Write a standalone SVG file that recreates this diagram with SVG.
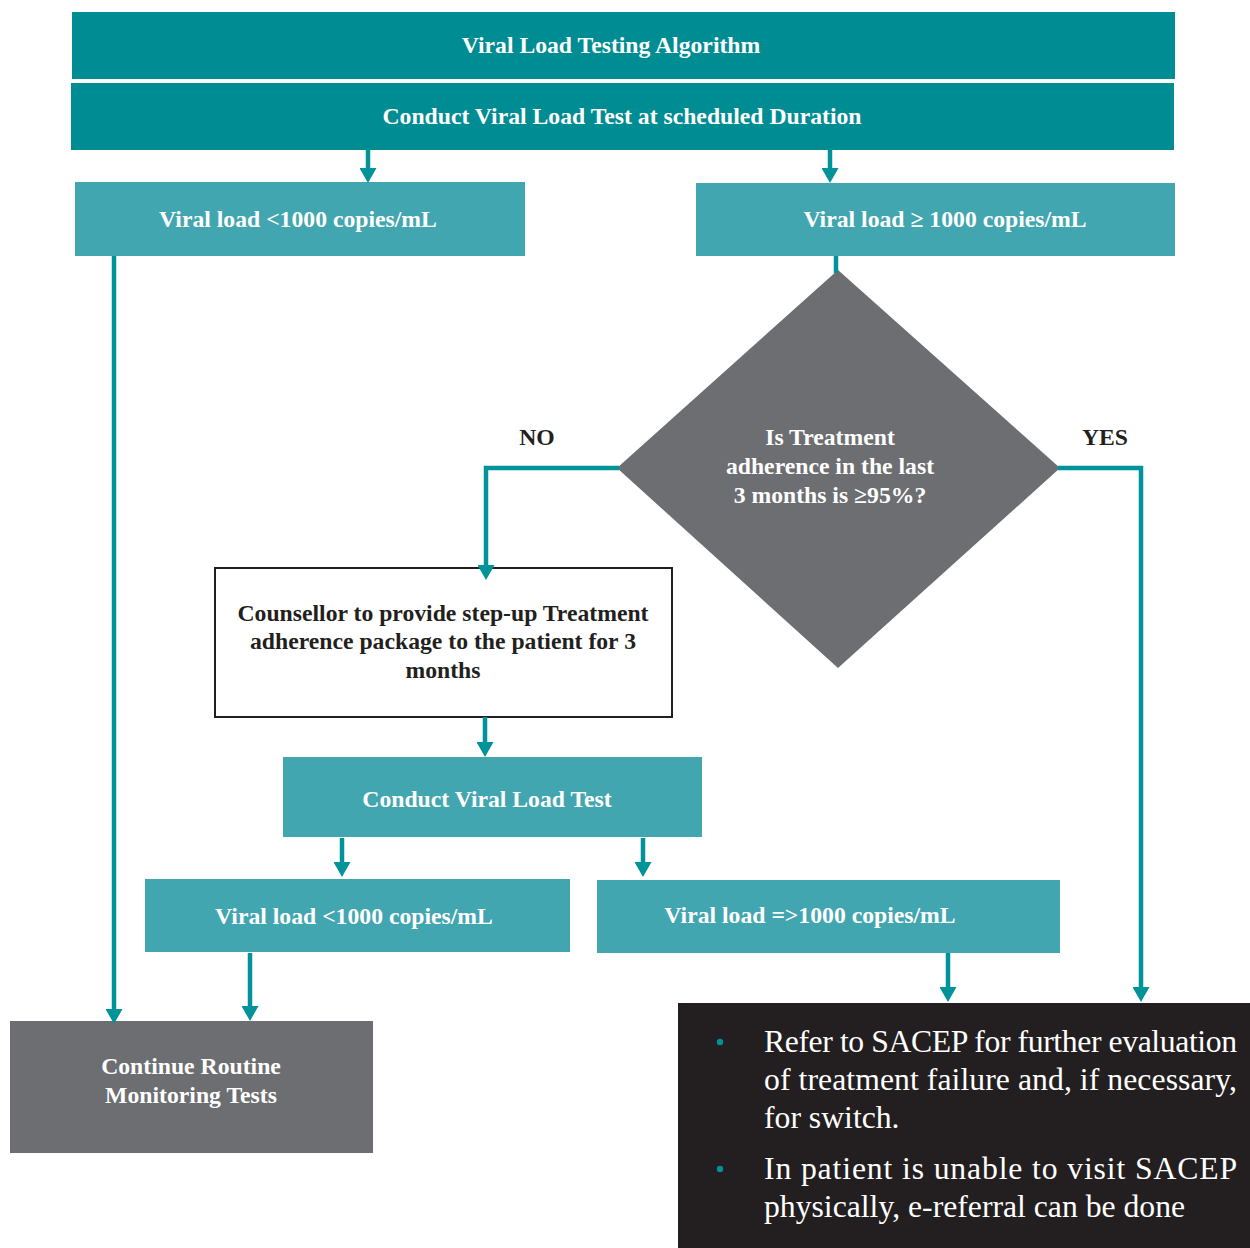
<svg xmlns="http://www.w3.org/2000/svg" width="1250" height="1248" viewBox="0 0 1250 1248">
  <style>
    .hdr { fill: #008C93; }
    .box { fill: #42A6B0; }
    .gray { fill: #6D6E71; }
    .lbl { font-family: "Liberation Serif", "Times New Roman", serif; font-weight: bold; font-size: 23.7px; text-anchor: middle; }
    .w { fill: #FFFFFF; }
    .d { fill: #231F20; }
    .body { font-family: "Liberation Serif", "Times New Roman", serif; font-size: 31.7px; fill: #FFFFFF; }
    .conn { fill: none; stroke: #00939A; stroke-width: 4.5; }
  </style>
  <defs>
    <marker id="arrow" viewBox="0 0 15 17" markerWidth="15" markerHeight="17" markerUnits="userSpaceOnUse" refX="5" refY="8.5" orient="auto">
      <path d="M0,0 L15,8.5 L0,17 Z" fill="#00939A"/>
    </marker>
  </defs>

  <rect width="1250" height="1248" fill="#FFFFFF"/>

  <g id="title">
    <rect class="hdr" x="72" y="12" width="1103" height="67"/>
    <text class="lbl w" x="611" y="53">Viral Load Testing Algorithm</text>
  </g>

  <g id="conduct-scheduled">
    <rect class="hdr" x="71" y="83" width="1103" height="67"/>
    <text class="lbl w" x="622" y="124">Conduct Viral Load Test at scheduled Duration</text>
  </g>

  <g id="vl-low-1">
    <rect class="box" x="75" y="182" width="450" height="74"/>
    <text class="lbl w" x="298" y="227">Viral load &lt;1000 copies/mL</text>
  </g>

  <g id="vl-high-1">
    <rect class="box" x="696" y="183" width="479" height="73"/>
    <text class="lbl w" x="945" y="227">Viral load ≥ 1000 copies/mL</text>
  </g>

  <g id="adherence-check">
    <polygon class="gray" points="838,270 1060,468 838,668 617,468"/>
    <text class="lbl w" x="830" y="445">Is Treatment</text>
    <text class="lbl w" x="830" y="474">adherence in the last</text>
    <text class="lbl w" x="830" y="503">3 months is ≥95%?</text>
  </g>

  <g id="counselling">
    <rect x="215" y="568" width="457" height="149" fill="#FFFFFF" stroke="#231F20" stroke-width="2"/>
    <text class="lbl d" x="443" y="621">Counsellor to provide step-up Treatment</text>
    <text class="lbl d" x="443" y="649">adherence package to the patient for 3</text>
    <text class="lbl d" x="443" y="678">months</text>
  </g>

  <g id="conduct-repeat">
    <rect class="box" x="283" y="757" width="419" height="80"/>
    <text class="lbl w" x="487" y="807">Conduct Viral Load Test</text>
  </g>

  <g id="vl-low-2">
    <rect class="box" x="145" y="879" width="425" height="73"/>
    <text class="lbl w" x="354" y="924">Viral load &lt;1000 copies/mL</text>
  </g>

  <g id="vl-high-2">
    <rect class="box" x="597" y="880" width="463" height="73"/>
    <text class="lbl w" x="810" y="923">Viral load =&gt;1000 copies/mL</text>
  </g>

  <g id="routine-monitoring">
    <rect class="gray" x="10" y="1021" width="363" height="132"/>
    <text class="lbl w" x="191" y="1074">Continue Routine</text>
    <text class="lbl w" x="191" y="1103">Monitoring Tests</text>
  </g>

  <g id="sacep-referral">
    <rect x="678" y="1003" width="572" height="245" fill="#231F20"/>
    <circle cx="720" cy="1042" r="3.2" fill="#00939A"/>
    <circle cx="720" cy="1169" r="3.2" fill="#00939A"/>
    <text class="body" x="764" y="1052" textLength="473" lengthAdjust="spacing">Refer to SACEP for further evaluation</text>
    <text class="body" x="764" y="1090" textLength="473" lengthAdjust="spacing">of treatment failure and, if necessary,</text>
    <text class="body" x="764" y="1128">for switch.</text>
    <text class="body" x="764" y="1179" textLength="473" lengthAdjust="spacing">In patient is unable to visit SACEP</text>
    <text class="body" x="764" y="1217">physically, e-referral can be done</text>
  </g>

  <g id="branch-labels">
    <text class="lbl d" x="537" y="445">NO</text>
    <text class="lbl d" x="1105" y="445">YES</text>
  </g>

  <g id="connectors">
    <path class="conn" d="M368,150 V173" marker-end="url(#arrow)"/>
    <path class="conn" d="M830,150 V173" marker-end="url(#arrow)"/>
    <path class="conn" d="M114,256 V1014" marker-end="url(#arrow)"/>
    <path class="conn" d="M836,256 V273"/>
    <path class="conn" d="M619,468 H486 V570" marker-end="url(#arrow)"/>
    <path class="conn" d="M1058,468 H1141 V992" marker-end="url(#arrow)"/>
    <path class="conn" d="M485,717 V747" marker-end="url(#arrow)"/>
    <path class="conn" d="M342,838 V867" marker-end="url(#arrow)"/>
    <path class="conn" d="M643,838 V867" marker-end="url(#arrow)"/>
    <path class="conn" d="M250,953 V1011" marker-end="url(#arrow)"/>
    <path class="conn" d="M948,953 V992" marker-end="url(#arrow)"/>
  </g>
</svg>
